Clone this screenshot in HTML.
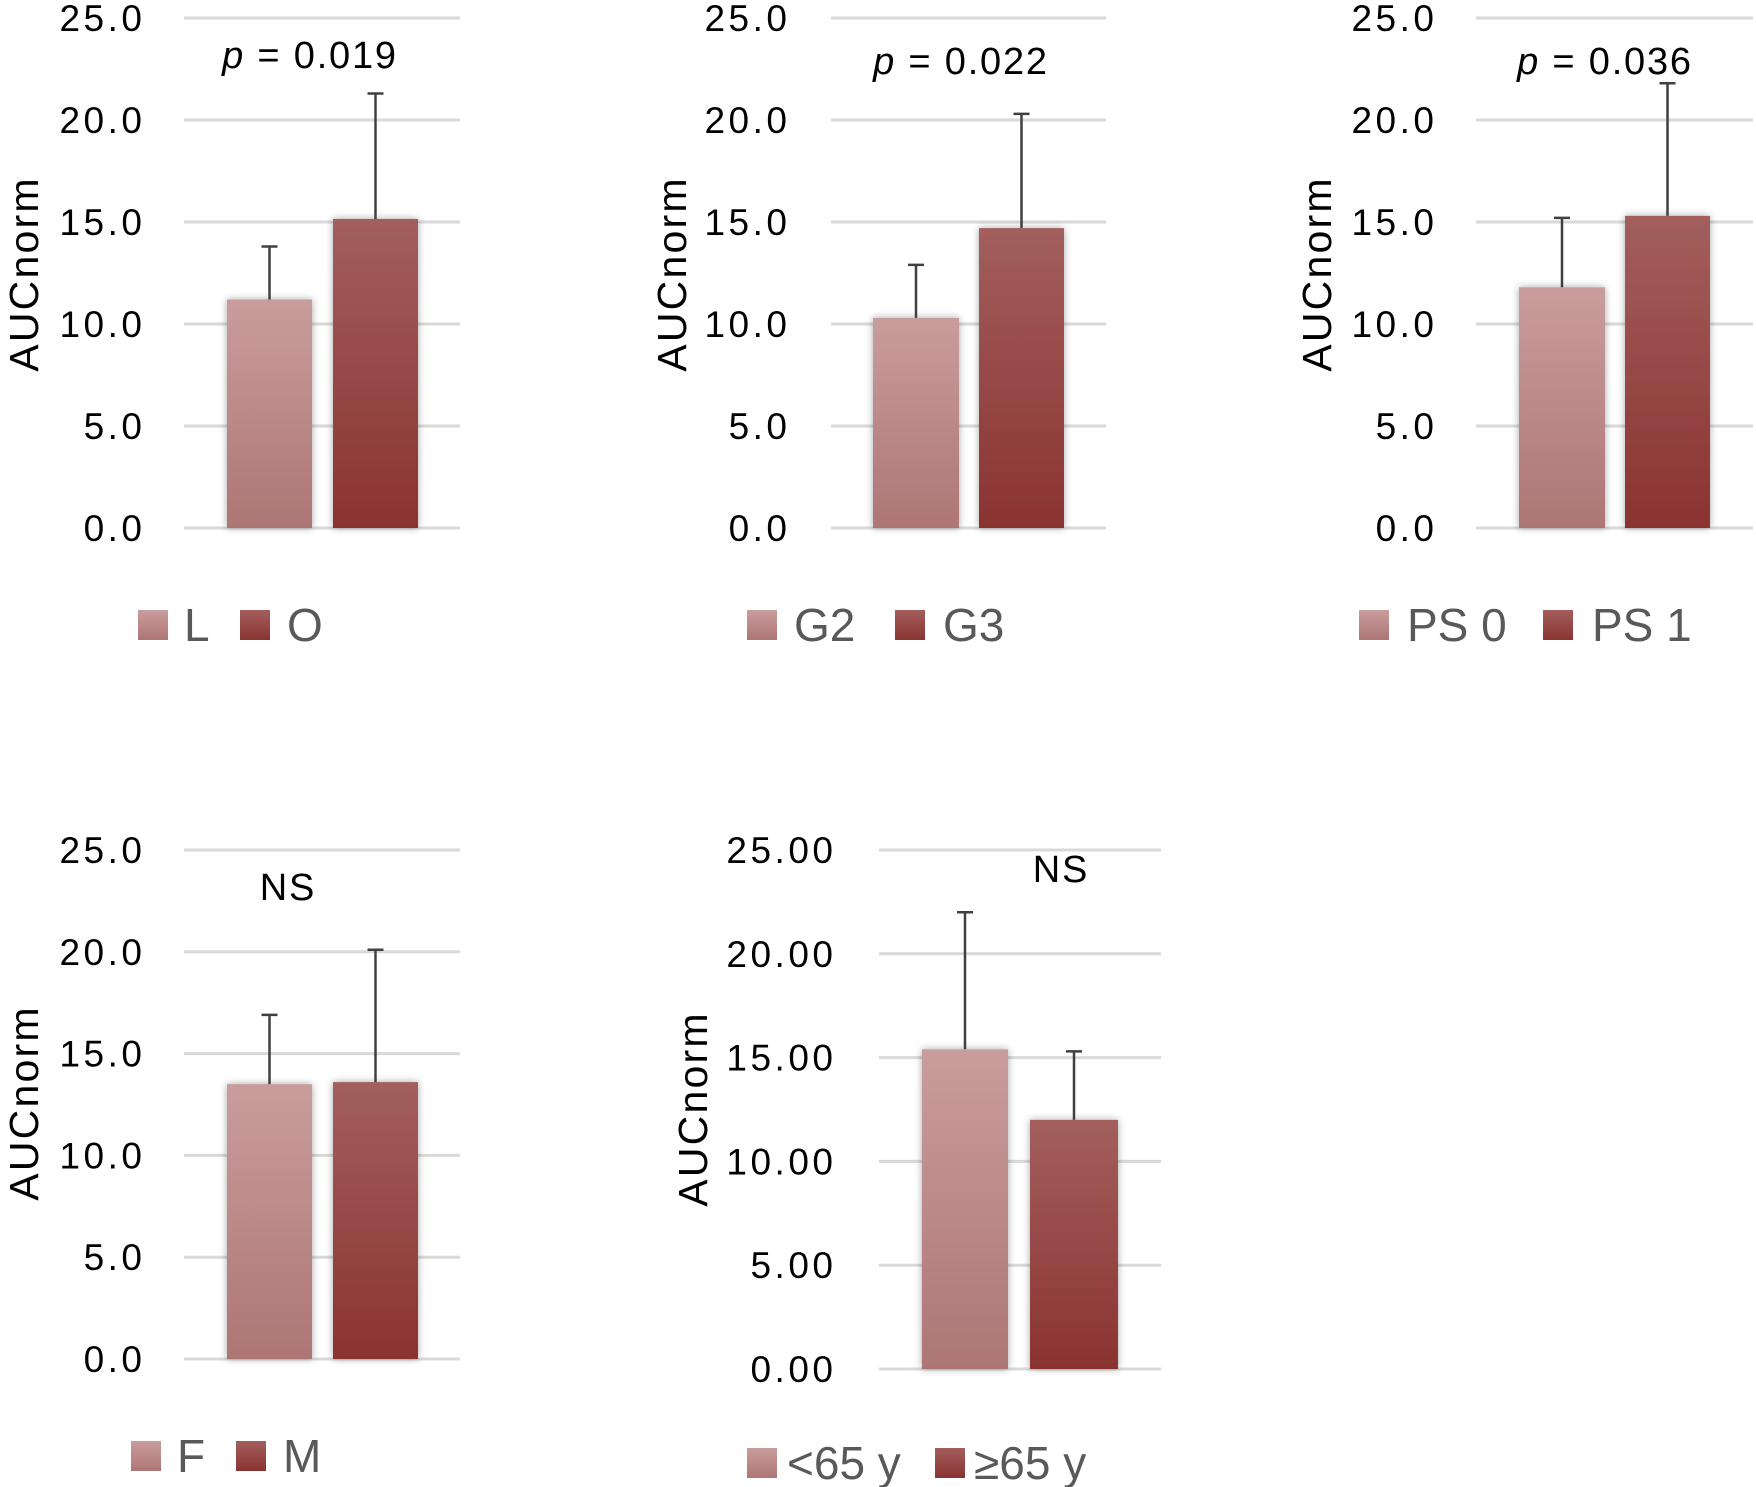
<!DOCTYPE html>
<html><head><meta charset="utf-8"><style>
html,body{margin:0;padding:0;background:#fff;}
svg{display:block;font-family:"Liberation Sans","DejaVu Sans",sans-serif;}
</style></head><body>
<svg id="c" width="1756" height="1487" viewBox="0 0 1756 1487">
<defs>
<linearGradient id="gl" x1="0" y1="0" x2="0" y2="1"><stop offset="0" stop-color="#c99d9c"/><stop offset="1" stop-color="#ad7675"/></linearGradient>
<linearGradient id="gd" x1="0" y1="0" x2="0" y2="1"><stop offset="0" stop-color="#a25f5d"/><stop offset="1" stop-color="#8a3331"/></linearGradient>
<filter id="sh" x="-20%" y="-5%" width="140%" height="110%"><feGaussianBlur in="SourceAlpha" stdDeviation="4"/><feOffset dx="0" dy="0"/><feComponentTransfer><feFuncA type="linear" slope="0.35"/></feComponentTransfer><feMerge><feMergeNode/><feMergeNode in="SourceGraphic"/></feMerge></filter>
</defs>
</svg>
<script>
const categoriesP1 = ["L","O"];
const valuesP1 = [11.2, 15.15];
const errorsP1 = [2.6, 6.15];
const categoriesP2 = ["G2","G3"];
const valuesP2 = [10.3, 14.7];
const errorsP2 = [2.6, 5.6];
const categoriesP3 = ["PS 0","PS 1"];
const valuesP3 = [11.8, 15.3];
const errorsP3 = [3.4, 6.5];
const categoriesP4 = ["F","M"];
const valuesP4 = [13.5, 13.6];
const errorsP4 = [3.4, 6.5];
const categoriesP5 = ["<65 y","\u226565 y"];
const valuesP5 = [15.4, 12.0];
const errorsP5 = [6.6, 3.3];
const ticks1 = ["0.0","5.0","10.0","15.0","20.0","25.0"];
const ticks2 = ["0.00","5.00","10.00","15.00","20.00","25.00"];
const yMax = 25;

const NS = "http://www.w3.org/2000/svg";
const svg = document.getElementById('c');
function mk(tag, attrs, parent){ const e=document.createElementNS(NS,tag); for(const k in attrs) e.setAttribute(k,attrs[k]); (parent||svg).appendChild(e); return e; }

const panels = [
 {id:'lo', cats:categoriesP1, vals:valuesP1, errs:errorsP1, ticks:ticks1, x0:184,x1:460,yTop:18,yBot:528, bars:[[227,312],[333,418]], tickX:142, titleX:20, titleY:274, note:'p', pval:'= 0.019', noteX:310, noteY:68, leg:[[138,184],[240,287]], legY:610},
 {id:'grade', cats:categoriesP2, vals:valuesP2, errs:errorsP2, ticks:ticks1, x0:831,x1:1106,yTop:18,yBot:528, bars:[[873,959],[979,1064]], tickX:787, titleX:668, titleY:274, note:'p', pval:'= 0.022', noteX:961, noteY:74, leg:[[747,794],[895,943]], legY:610},
 {id:'ps', cats:categoriesP3, vals:valuesP3, errs:errorsP3, ticks:ticks1, x0:1476,x1:1753,yTop:18,yBot:528, bars:[[1519,1605],[1625,1710]], tickX:1434, titleX:1313, titleY:274, note:'p', pval:'= 0.036', noteX:1605, noteY:74, leg:[[1359,1407],[1543,1592]], legY:610},
 {id:'sex', cats:categoriesP4, vals:valuesP4, errs:errorsP4, ticks:ticks1, x0:184,x1:460,yTop:850,yBot:1359, bars:[[227,312],[333,418]], tickX:142, titleX:20, titleY:1103, note:'NS', noteX:288, noteY:900, leg:[[131,177],[236,283]], legY:1441},
 {id:'age', cats:categoriesP5, vals:valuesP5, errs:errorsP5, ticks:ticks2, x0:879,x1:1161,yTop:850,yBot:1369, bars:[[922,1008],[1030,1118]], tickX:833, titleX:689, titleY:1109, note:'NS', noteX:1061, noteY:882, leg:[[747,787],[935,974]], legY:1448}
];

panels.forEach(p=>{
  const g = mk('g',{});
  
  
  const y = v => p.yBot - (v / yMax) * (p.yBot - p.yTop);
  p.ticks.forEach((t,i)=>{
    const v = i * yMax / (p.ticks.length - 1);
    const gl = mk('line',{x1:p.x0,x2:p.x1,y1:y(v),y2:y(v),stroke:'#d9d9d9','stroke-width':3},g);
    
    
    const tx = mk('text',{x:p.tickX+3.5,y:y(v)+13,'text-anchor':'end','font-size':37,'letter-spacing':3.5,fill:'#000'},g);
    tx.textContent = t;
    
    
  });
  const yt = mk('text',{x:0,y:0,transform:`translate(${p.titleX+18},${p.titleY}) rotate(-90)`,'text-anchor':'middle','font-size':41,'letter-spacing':2.2,fill:'#000'},g);
  yt.textContent = 'AUCnorm';
  
  
  p.vals.forEach((v,i)=>{
    const [bx0,bx1] = p.bars[i];
    const r = mk('rect',{x:bx0,y:y(v),width:bx1-bx0,height:p.yBot-y(v),fill:i===0?'url(#gl)':'url(#gd)',filter:'url(#sh)'},g);
    
    
    const cx = (bx0+bx1)/2;
    const e = mk('path',{d:`M${cx},${y(v)} V${y(v+p.errs[i])} M${cx-8},${y(v+p.errs[i])} H${cx+8}`,stroke:'#404040','stroke-width':2.5,fill:'none'},g);
    
    
    const [sx,tx] = p.leg[i];
    const ls = mk('rect',{x:sx,y:p.legY,width:30,height:30,fill:i===0?'url(#gl)':'url(#gd)'},g);
    
    
    const lt = mk('text',{x:tx,y:p.legY+31,'font-size':46,fill:'#595959'},g);
    lt.textContent = p.cats[i];
    
    
  });
  const nt = mk('text',{x:p.noteX,y:p.noteY,'text-anchor':'middle','font-size':38,'letter-spacing':1.8,fill:'#000'},g);
  if(p.note==='p'){
    const i1 = mk('tspan',{'font-style':'italic'},nt); i1.textContent='p';
    const i2 = mk('tspan',{},nt); i2.textContent=' '+p.pval;
  } else nt.textContent = p.note;
  
  
});
</script>
</body></html>
